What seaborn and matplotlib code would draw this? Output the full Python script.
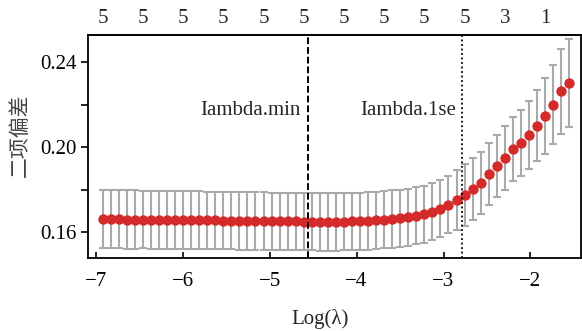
import pandas as pd
import matplotlib
matplotlib.use("Agg")
import matplotlib.pyplot as plt
import seaborn as sns

# cross-validation curve
log_lambda = [
    -6.920, -6.828, -6.735, -6.643, -6.550, -6.458, -6.365, -6.273, -6.180, -6.088,
    -5.995, -5.903, -5.810, -5.718, -5.625, -5.533, -5.440, -5.348, -5.255, -5.163,
    -5.070, -4.978, -4.885, -4.793, -4.700, -4.608, -4.515, -4.423, -4.330, -4.238,
    -4.145, -4.053, -3.960, -3.868, -3.775, -3.683, -3.590, -3.498, -3.405, -3.313,
    -3.220, -3.128, -3.035, -2.943, -2.850, -2.758, -2.665, -2.573, -2.480, -2.388,
    -2.295, -2.203, -2.110, -2.018, -1.925, -1.833, -1.740, -1.648, -1.555,
]
cv_mean = [
    0.1660, 0.1660, 0.1660, 0.1659, 0.1659, 0.1659, 0.1658, 0.1658, 0.1658, 0.1657,
    0.1657, 0.1656, 0.1656, 0.1655, 0.1655, 0.1654, 0.1654, 0.1653, 0.1653, 0.1652,
    0.1652, 0.1651, 0.1651, 0.1650, 0.1650, 0.1649, 0.1649, 0.1648, 0.1648, 0.1648,
    0.1649, 0.1650, 0.1651, 0.1653, 0.1655, 0.1658, 0.1661, 0.1665, 0.1670, 0.1676,
    0.1684, 0.1696, 0.1710, 0.1728, 0.1750, 0.1774, 0.1802, 0.1832, 0.1872, 0.1911,
    0.1949, 0.1989, 0.2021, 0.2057, 0.2100, 0.2146, 0.2200, 0.2262, 0.2302,
]
cv_se = [
    0.0137, 0.0137, 0.0137, 0.0137, 0.0137, 0.0136, 0.0136, 0.0136, 0.0136, 0.0136,
    0.0136, 0.0136, 0.0135, 0.0135, 0.0135, 0.0135, 0.0135, 0.0135, 0.0135, 0.0135,
    0.0135, 0.0135, 0.0135, 0.0135, 0.0135, 0.0135, 0.0135, 0.0135, 0.0135, 0.0135,
    0.0135, 0.0135, 0.0135, 0.0135, 0.0135, 0.0135, 0.0135, 0.0135, 0.0134, 0.0134,
    0.0134, 0.0134, 0.0134, 0.0134, 0.0140, 0.0145, 0.0145, 0.0145, 0.0145, 0.0147,
    0.0150, 0.0151, 0.0155, 0.0158, 0.0167, 0.0177, 0.0188, 0.0200, 0.0206,
]

# number of non-zero coefficients shown along the top
nz_labels = ["5", "5", "5", "5", "5", "5", "5", "5", "5", "5", "3", "1"]
nz_positions = log_lambda[::5]

lambda_min = -4.556
lambda_1se = -2.79

df = pd.DataFrame({"log_lambda": log_lambda, "cv_mean": cv_mean, "cv_se": cv_se})

sns.set_theme(style="ticks")
plt.rcParams["font.family"] = ["Liberation Serif", "DejaVu Serif"]
plt.rcParams["axes.unicode_minus"] = True

fig = plt.figure(figsize=(5.82, 3.31), dpi=100)
ax = fig.add_axes([0.1512, 0.2205, 0.8468, 0.6738])

ax.errorbar(
    df["log_lambda"], df["cv_mean"], yerr=df["cv_se"],
    fmt="none", ecolor="#aaaaaa", elinewidth=1.5, capsize=2.8, capthick=1.5, zorder=2,
)
sns.scatterplot(
    data=df, x="log_lambda", y="cv_mean", ax=ax,
    color="#d42a2a", s=56, linewidth=0, zorder=3, legend=False,
)

ax.axvline(lambda_min, color="black", lw=1.4, linestyle=(0, (3.5, 1.5)), zorder=4)
ax.axvline(lambda_1se, color="black", lw=1.3, linestyle=(0, (1, 1.5)), zorder=4)

ax.text(-4.644, 0.2174, "Iambda.min", ha="right", va="center", fontsize=15)
ax.text(-2.855, 0.2174, "Iambda.1se", ha="right", va="center", fontsize=15)

ax.set_xlim(-7.09, -1.42)
ax.set_ylim(0.1478, 0.2527)

ax.set_xticks([-7, -6, -5, -4, -3, -2])
ax.set_yticks([0.16, 0.20, 0.24])
ax.set_yticks([0.18, 0.22], minor=True)
ax.set_yticklabels(["0.16", "0.20", "0.24"])

ax.tick_params(axis="x", direction="in", length=4, width=1.2, labelsize=15, pad=10, colors="black")
ax.tick_params(axis="y", which="both", direction="out", length=5, width=1.2, labelsize=15, pad=3, colors="black")

for spine in ax.spines.values():
    spine.set_visible(True)
    spine.set_color("black")
    spine.set_linewidth(1.3)

ax.set_xlabel("Log(λ)", fontsize=15)
ax.xaxis.set_label_coords(0.47, -0.228)
ax.set_ylabel("二项偏差", fontsize=15, family=["Noto Sans CJK SC", "DejaVu Sans"], color="#444444")
ax.yaxis.set_label_coords(-0.115, 0.55)

top = ax.secondary_xaxis("top")
top.set_xticks(nz_positions)
top.set_xticklabels(nz_labels)
top.tick_params(axis="x", length=0, labelsize=15, pad=5)

fig.savefig("out.png", dpi=100)
plt.close(fig)
